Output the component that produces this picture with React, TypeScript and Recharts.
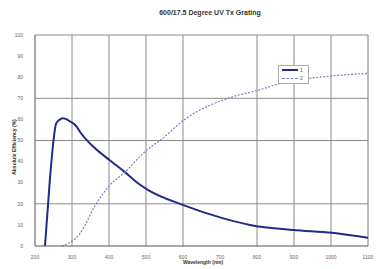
import React from 'react';
import { LineChart, Line, XAxis, YAxis, CartesianGrid, ReferenceLine } from 'recharts';

const xTicks = [200, 300, 400, 500, 600, 700, 800, 900, 1000, 1100];
const yTicks = [0, 10, 20, 30, 40, 50, 60, 70, 80, 90, 100];
// grid lines that show in the picture
const xGrid = [300, 400, 500, 600, 800, 900, 1000];
const yGrid = [10, 20, 40, 50, 70, 90, 100];

// series 1 (solid)
const wavelength1 = [227, 240, 250, 257, 268, 276, 295, 313, 322, 358, 403, 443, 484, 506, 601, 709, 781, 898, 1002, 1100];
const efficiency1 = [0, 31, 50, 58, 60, 60.5, 59, 56.5, 54, 47, 40.5, 35, 29, 26.5, 19.4, 13.1, 10, 7.6, 6.3, 3.9];

// series 2 (dotted)
const wavelength2 = [272, 322, 362, 403, 443, 484, 506, 538, 601, 736, 799, 871, 943, 1002, 1100];
const efficiency2 = [0, 6, 19, 29, 35, 42.5, 46, 50, 59.5, 70.8, 73.6, 77.4, 79.5, 80.6, 81.8];

const series1 = wavelength1.map((w, i) => ({ w, v: efficiency1[i] }));
const series2 = wavelength2.map((w, i) => ({ w, v: efficiency2[i] }));

const FONT = '"Liberation Sans", Arial, sans-serif';

export default function App() {
  return (
    <div style={{ position: 'absolute', left: 0, top: 0, width: 385, height: 269, background: '#fff', fontFamily: FONT }}>
      <LineChart width={385} height={269} margin={{ top: 35, right: 17, bottom: 0, left: 5 }}>
        <CartesianGrid stroke="#8a8a8a" strokeWidth={1} horizontalValues={yGrid} verticalValues={xGrid} />
        <XAxis
          type="number"
          dataKey="w"
          domain={[200, 1100]}
          ticks={xTicks}
          allowDataOverflow
          height={23}
          stroke="#555"
          tickLine={false}
          tick={{ fontSize: 5, fill: '#666', fontFamily: FONT }}
          tickMargin={3}
        />
        <YAxis
          type="number"
          domain={[0, 100]}
          ticks={yTicks}
          width={30}
          stroke="#555"
          tickLine={false}
          tick={{ fontSize: 5, fill: '#666', fontFamily: FONT }}
          tickMargin={6}
        />
        <ReferenceLine x={1100} stroke="#777" />
        <Line data={series1} dataKey="v" type="monotone" stroke="#24298a" strokeWidth={2} dot={false} isAnimationActive={false} />
        <Line data={series2} dataKey="v" type="monotone" stroke="#7b80b8" strokeWidth={1.2} strokeDasharray="2 1.5" dot={false} isAnimationActive={false} />
      </LineChart>
      <div style={{ position: 'absolute', left: 110, top: 9, width: 200, textAlign: 'center', fontSize: 7, fontWeight: 'bold', color: '#333' }}>
        600/17.5 Degree UV Tx Grating
      </div>
      <div style={{ position: 'absolute', left: 153, top: 259, width: 100, textAlign: 'center', fontSize: 5, fontWeight: 'bold', color: '#333' }}>
        Wavelength (nm)
      </div>
      <div style={{ position: 'absolute', left: -36, top: 144, width: 100, textAlign: 'center', fontSize: 5, fontWeight: 'bold', color: '#333', transform: 'rotate(-90deg)' }}>
        Absolute Efficiency (%)
      </div>
      <div style={{ position: 'absolute', left: 278, top: 65, width: 29, height: 17, border: '1px solid #aaa', background: '#fff', fontSize: 5, color: '#555' }}>
        <div style={{ display: 'flex', alignItems: 'center', height: 8 }}>
          <div style={{ marginLeft: 3, width: 16, borderTop: '2px solid #24298a' }} />
          <span style={{ marginLeft: 2 }}>1</span>
        </div>
        <div style={{ display: 'flex', alignItems: 'center', height: 8 }}>
          <div style={{ marginLeft: 3, width: 16, borderTop: '1px dashed #7b80b8' }} />
          <span style={{ marginLeft: 2 }}>2</span>
        </div>
      </div>
    </div>
  );
}
